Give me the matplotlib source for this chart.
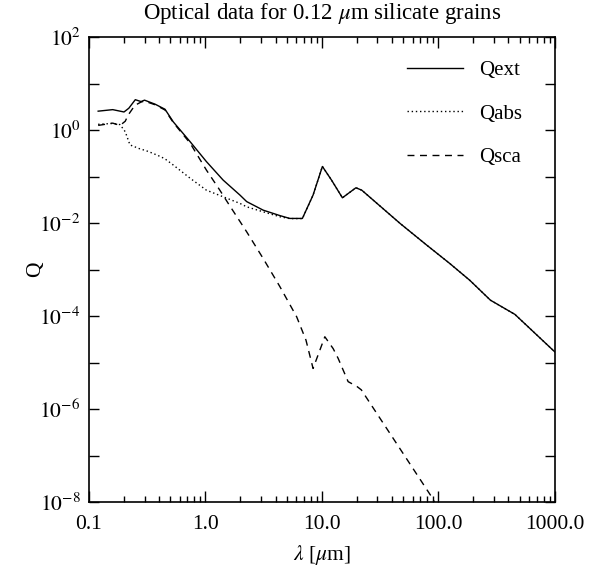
import matplotlib
matplotlib.use("Agg")
import matplotlib.pyplot as plt
from matplotlib.ticker import FixedLocator, LogLocator, NullLocator, NullFormatter

plt.rcParams['font.family'] = ['Liberation Serif', 'DejaVu Serif']
plt.rcParams['mathtext.fontset'] = 'stix'

# wavelength [um] and efficiencies
lam_ext = [0.12, 0.16, 0.20, 0.22, 0.25, 0.28, 0.30, 0.37, 0.45, 0.53, 0.74,
           1.02, 1.42, 1.98, 2.26, 3.13, 4.36, 5.3, 6.8, 8.4, 10.1, 12.1,
           15.0, 19.6, 22.0, 47.0, 79.0, 125.0, 186.0, 280.0, 454.0, 1000.0]
q_ext = [2.55, 2.75, 2.45, 2.95, 4.5, 4.1, 4.4, 3.6, 2.8, 1.5, 0.56,
         0.21, 0.084, 0.040, 0.029, 0.019, 0.0145, 0.0126, 0.0126, 0.040, 0.165, 0.084,
         0.035, 0.0575, 0.051, 0.0098, 0.0034, 0.00136, 5.9e-4, 2.2e-4, 1.09e-4, 1.7e-5]

lam_abs = [0.12, 0.16, 0.185, 0.205, 0.225, 0.27, 0.31, 0.35, 0.41, 0.45, 0.53,
           0.74, 1.02, 1.42, 1.98, 2.26, 3.13, 4.36, 5.3, 6.8, 8.4, 10.1, 12.1,
           15.0, 19.6, 22.0, 47.0, 79.0, 125.0, 186.0, 280.0, 454.0, 1000.0]
q_abs = [1.33, 1.39, 1.31, 0.92, 0.48, 0.40, 0.36, 0.32, 0.27, 0.24, 0.177,
         0.092, 0.051, 0.0368, 0.0265, 0.0224, 0.0175, 0.0137, 0.0125, 0.0125, 0.040, 0.165, 0.084,
         0.035, 0.0575, 0.051, 0.0098, 0.0034, 0.00136, 5.9e-4, 2.2e-4, 1.09e-4, 1.7e-5]

lam_sca = [0.12, 0.16, 0.185, 0.205, 0.217, 0.248, 0.28, 0.30, 0.37, 0.45, 0.53,
           0.74, 1.02, 1.33, 1.57, 2.26, 3.13, 4.36, 6.07, 7.3, 8.4, 10.6,
           12.5, 13.8, 16.8, 19.9, 21.8, 87.5, 100.0]
q_sca = [1.26, 1.41, 1.26, 1.55, 2.1, 3.4, 4.0, 4.2, 3.5, 2.7, 1.45,
         0.52, 0.138, 0.051, 0.0265, 0.0065, 0.00174, 4.3e-4, 9.7e-5, 3.05e-5, 7.5e-6, 3.6e-5,
         2.0e-5, 1.23e-5, 3.9e-6, 3.1e-6, 2.6e-6, 1.3e-8, 7e-9]

xticks = [0.1, 1.0, 10.0, 100.0, 1000.0]
xticklabels = ['0.1', '1.0', '10.0', '100.0', '1000.0']
ydecades = list(range(-8, 3))

fig = plt.figure(figsize=(5.89, 5.70), dpi=100)
ax = fig.add_axes([0.151, 0.119, 0.791, 0.816])

ax.plot(lam_ext, q_ext, color='black', lw=1.0, ls='-', label='Qext')
ax.plot(lam_abs, q_abs, color='black', lw=1.0, ls=(0, (1, 2)), label='Qabs')
ax.plot(lam_sca, q_sca, color='black', lw=1.0, ls=(0, (5, 4)), label='Qsca')

ax.set_xscale('log')
ax.set_yscale('log')
ax.set_xlim(0.1, 1000)
ax.set_ylim(1e-8, 1e2)

ax.xaxis.set_major_locator(FixedLocator(xticks))
ax.set_xticklabels(xticklabels)
ax.xaxis.set_minor_locator(LogLocator(base=10, subs=range(2, 10)))
ax.xaxis.set_minor_formatter(NullFormatter())

ax.yaxis.set_major_locator(FixedLocator([10.0 ** d for d in ydecades]))
ax.set_yticklabels(['$10^{%d}$' % d if d % 2 == 0 else '' for d in ydecades])
ax.yaxis.set_minor_locator(NullLocator())

ax.tick_params(which='both', direction='in', top=True, right=True, labelsize=15.5, width=1.0)
ax.tick_params(axis='x', which='major', length=8, pad=9)
ax.tick_params(axis='x', which='minor', length=4)
ax.tick_params(axis='y', which='major', length=7, pad=6)
for s in ax.spines.values():
    s.set_linewidth(1.2)

ax.set_title('Optical data for 0.12 $\\mu$m silicate grains', fontsize=16.5, pad=13)
ax.set_xlabel('$\\lambda$ [$\\mu$m]', fontsize=15.5, labelpad=7)
ax.set_ylabel('Q', fontsize=15.5, labelpad=-4)

ax.legend(loc='upper right', bbox_to_anchor=(0.97, 0.99), frameon=False, fontsize=15,
          handlelength=2.7, handletextpad=0.77, labelspacing=1.15, borderpad=0.4)

fig.savefig('out.png', dpi=100)
